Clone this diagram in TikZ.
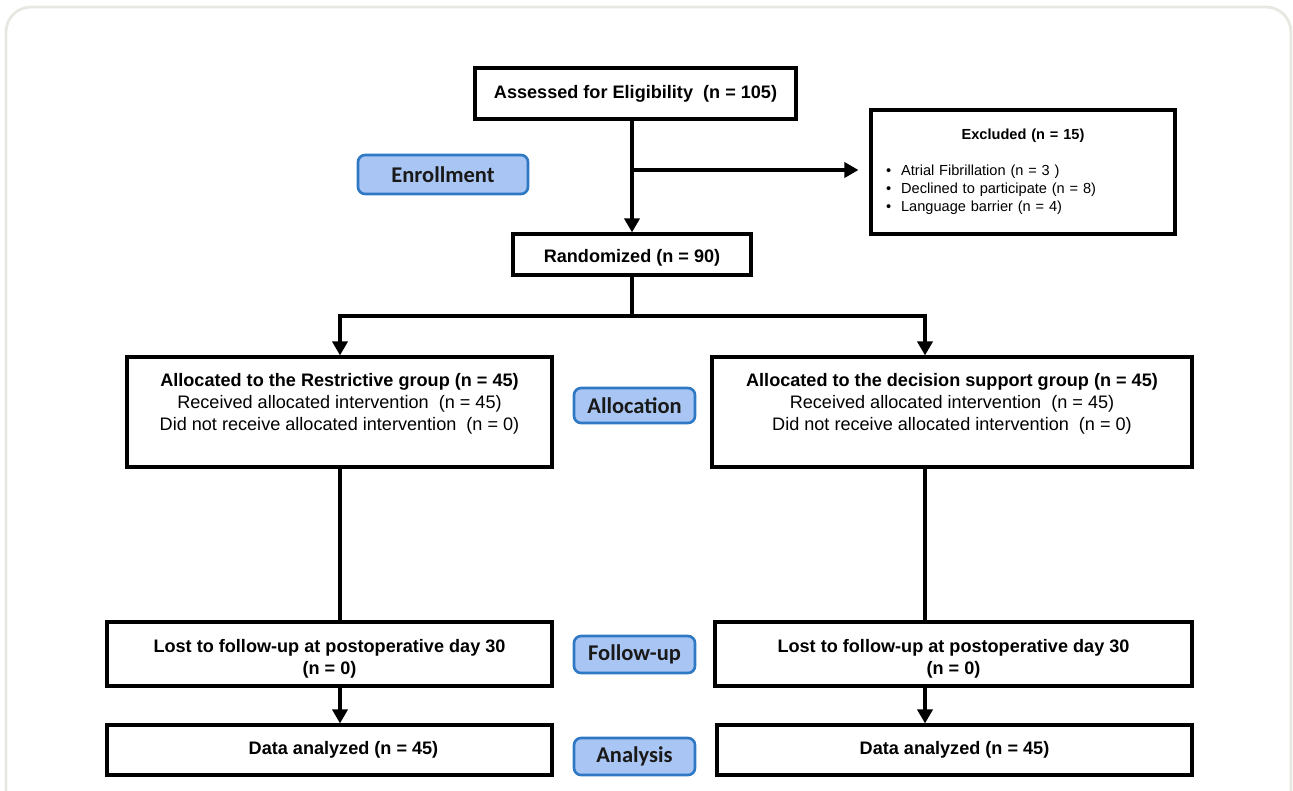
\documentclass[tikz,border=0pt]{standalone}
\usepackage{fontspec}
\setmainfont{Liberation Sans}
\newfontfamily\pillfont{Carlito}
\usetikzlibrary{arrows.meta,calc}
\definecolor{pillfill}{HTML}{A9C5F3}
\definecolor{pillline}{HTML}{2F78C4}
\definecolor{frameline}{HTML}{E9E7E1}
\begin{document}
\begin{tikzpicture}[x=0.02cm,y=-0.02cm,
  box/.style={draw=black,line width=1.8pt,fill=white,inner sep=0pt,align=center,
    font=\fontsize{10.3}{12.5}\selectfont},
  pill/.style={draw=pillline,fill=pillfill,line width=1.5pt,rounded corners=0.14cm,
    inner sep=0pt,font=\pillfont\bfseries\fontsize{12.8}{14}\selectfont,text=black!90},
  conn/.style={line width=2.2pt,draw=black},
  arr/.style={conn,-{Triangle[length=0.28cm,width=0.3cm]}}]
\useasboundingbox (0,0) rectangle (1293,790);
\begin{scope}
\clip (0,0) rectangle (1293,790);
\draw[frameline,line width=1.6pt,rounded corners=0.5cm] (6,7) rectangle (1291,820);
\end{scope}

% nodes
\node[box,minimum width=6.42cm,minimum height=1.02cm] (assess) at (635.5,93.5)
  {\rule{0pt}{0.2cm}\bfseries Assessed for Eligibility\ \ (n = 105)};
\node[box,minimum width=6.08cm,minimum height=2.48cm,text width=5.8cm,align=left,
  font=\fontsize{8.3}{10.2}\selectfont] (excl) at (1023,172)
  {\centering\textbf{Excluded (n = 15)}\par\vspace{0.36cm}\raggedright
   \hspace*{0.16cm}\textbullet\hspace{0.2cm}Atrial Fibrillation (n = 3 )\par
   \hspace*{0.16cm}\textbullet\hspace{0.2cm}Declined to participate (n = 8)\par
   \hspace*{0.16cm}\textbullet\hspace{0.2cm}Language barrier (n = 4)\par\vspace{0.38cm}};
\node[box,minimum width=4.76cm,minimum height=0.82cm] (rand) at (632,254.5)
  {\parbox[c][0.7cm][c]{4.5cm}{\centering\vspace{0.14cm}\bfseries Randomized (n = 90)}};
\node[pill,minimum width=3.4cm,minimum height=0.78cm] (enroll) at (443,174.5)
  {\raisebox{-0.03cm}{Enrollment}};

\node[box,minimum width=8.5cm,minimum height=2.2cm] (allocL) at (339.5,412)
  {\parbox[c][1.9cm][t]{8.4cm}{\centering\vspace*{0.18cm}%
   \textbf{Allocated to the Restrictive group (n = 45)}\\
   Received allocated intervention\ \ (n = 45)\\
   Did not receive allocated intervention\ \ (n = 0)}};
\node[box,minimum width=9.6cm,minimum height=2.2cm] (allocR) at (952,412)
  {\parbox[c][1.9cm][t]{9.4cm}{\centering\vspace*{0.18cm}%
   \textbf{Allocated to the decision support group (n = 45)}\\
   Received allocated intervention\ \ (n = 45)\\
   Did not receive allocated intervention\ \ (n = 0)}};
\node[pill,minimum width=2.42cm,minimum height=0.70cm] (alloc) at (634.5,405.5) {Allocation};

\node[box,minimum width=8.9cm,minimum height=1.28cm] (followL) at (329.5,654)
  {\parbox[c][1.1cm][c]{8.7cm}{\centering\vspace{0.2cm}%
   \bfseries Lost to follow-up at postoperative day 30\\ (n = 0)}};
\node[box,minimum width=9.54cm,minimum height=1.28cm] (followR) at (953.5,654)
  {\parbox[c][1.1cm][c]{9.3cm}{\centering\vspace{0.2cm}%
   \bfseries Lost to follow-up at postoperative day 30\\ (n = 0)}};
\node[pill,minimum width=2.42cm,minimum height=0.74cm] (follow) at (634.5,654.5) {Follow-up};

\node[box,minimum width=8.9cm,minimum height=1.0cm] (dataL) at (329.5,750)
  {\hspace*{0.56cm}\bfseries Data analyzed (n = 45)};
\node[box,minimum width=9.5cm,minimum height=1.0cm] (dataR) at (954.5,750)
  {\bfseries Data analyzed (n = 45)};
\node[pill,minimum width=2.42cm,minimum height=0.74cm] (analysis) at (634.5,756.5) {Analysis};

% helper coordinates
\coordinate (brE) at (632,170);
\coordinate (splitL) at (340,316);
\coordinate (splitR) at (925,316);

% connectors
\draw[arr] (assess.south -| brE) -- (rand.north -| brE);
\draw[arr,shorten >=0.22cm] (brE) -- (brE -| excl.west);
\draw[arr] (rand.south -| brE) |- (splitL) -- (splitL |- allocL.north);
\draw[arr] (rand.south -| brE) |- (splitR) -- (splitR |- allocR.north);
\draw[conn] (splitL |- allocL.south) -- (splitL |- followL.north);
\draw[conn] (splitR |- allocR.south) -- (splitR |- followR.north);
\draw[arr] (splitL |- followL.south) -- (splitL |- dataL.north);
\draw[arr] (splitR |- followR.south) -- (splitR |- dataR.north);
\end{tikzpicture}
\end{document}
